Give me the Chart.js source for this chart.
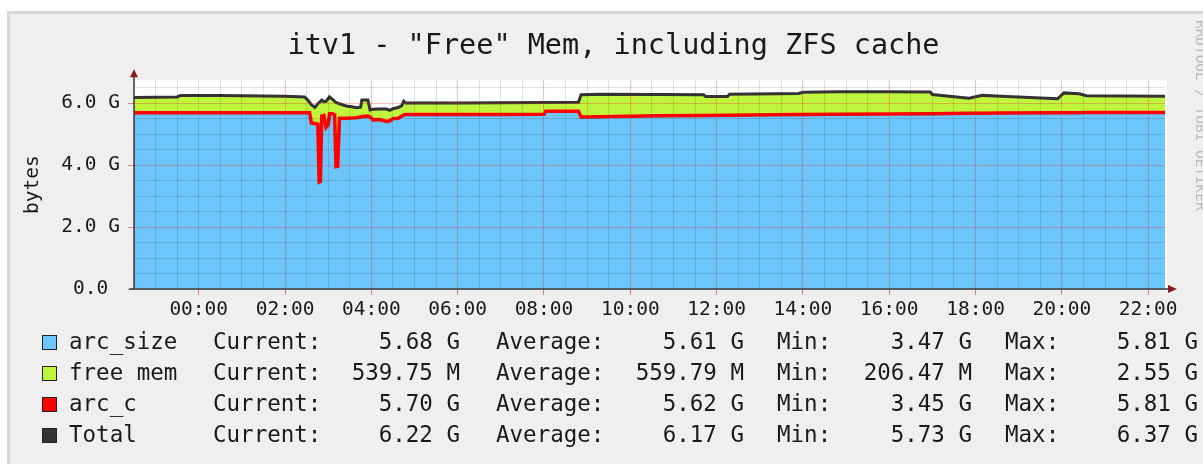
<!DOCTYPE html>
<html>
<head>
<meta charset="utf-8">
<script src="https://cdn.jsdelivr.net/npm/chart.js@4.4.0/dist/chart.umd.min.js"></script>
<style>
  html, body { margin:0; padding:0; background:#fff; }
  #wrap { position:relative; width:1203px; height:464px; overflow:hidden; }
  #panel { position:absolute; left:7px; top:11px; width:1220px; height:480px; background:#efefef; border:3px solid #d6d6d6; box-sizing:border-box; }
  #grafico { position:absolute; left:0; top:0; }
  .ley { position:absolute; font-family:'DejaVu Sans Mono', monospace; font-size:22.5px; line-height:22.5px; color:#1a1a1a; white-space:pre; }
  .caja { position:absolute; width:13px; height:13px; border:1px solid #222; }
  #marca { position:absolute; left:1193px; top:20px; writing-mode:vertical-rl; font-family:'DejaVu Sans Mono', monospace; font-size:14.4px; color:#bcbcbc; white-space:pre; }
</style>
</head>
<body>
<div id="wrap">
  <div id="panel"></div>
  <canvas id="grafico" width="1203" height="464"></canvas>
  <div id="marca">RRDTOOL / TOBI OETIKER</div>
</div>
<script>
// horas (negativas = dia anterior)
var horas    = [-1.5, -1.0, -0.5, -0.42, 0.0, 0.5, 1.0, 1.5, 2.0, 2.45, 2.53, 2.57, 2.61, 2.69, 2.76, 2.79, 2.82, 2.85, 2.90, 2.95, 3.00, 3.03, 3.10, 3.15, 3.18, 3.22, 3.26, 3.42, 3.55, 3.65, 3.75, 3.78, 3.92, 3.97, 4.04, 4.19, 4.35, 4.43, 4.50, 4.62, 4.70, 4.75, 4.80, 6.0, 7.0, 8.0, 8.04, 8.80, 8.86, 9.3, 10.7, 11.7, 11.75, 12.25, 12.3, 13.9, 14.0, 14.8, 16.0, 16.95, 17.0, 17.85, 18.15, 18.6, 19.9, 20.05, 20.4, 20.57, 22.39];
var total    = [6.18, 6.19, 6.20, 6.25, 6.25, 6.25, 6.24, 6.23, 6.22, 6.20, 6.10, 6.02, 5.95, 5.86, 5.98, 6.02, 6.05, 6.10, 6.05, 6.06, 6.15, 6.20, 6.12, 6.06, 6.02, 6.00, 5.98, 5.91, 5.88, 5.85, 5.87, 6.10, 6.10, 5.78, 5.80, 5.81, 5.81, 5.77, 5.82, 5.86, 5.91, 6.06, 6.00, 6.00, 6.01, 6.02, 6.02, 6.03, 6.27, 6.29, 6.28, 6.27, 6.21, 6.21, 6.29, 6.31, 6.35, 6.37, 6.37, 6.36, 6.28, 6.16, 6.25, 6.22, 6.14, 6.33, 6.30, 6.24, 6.22];
var arc_c    = [5.69, 5.69, 5.69, 5.69, 5.69, 5.69, 5.69, 5.69, 5.69, 5.69, 5.69, 5.69, 5.36, 5.34, 5.32, 3.45, 3.47, 5.58, 5.60, 5.22, 5.30, 5.66, 5.66, 5.62, 3.95, 3.96, 5.51, 5.51, 5.52, 5.53, 5.55, 5.57, 5.58, 5.55, 5.46, 5.47, 5.41, 5.43, 5.50, 5.51, 5.58, 5.62, 5.63, 5.63, 5.63, 5.64, 5.74, 5.74, 5.55, 5.56, 5.59, 5.60, 5.60, 5.61, 5.61, 5.63, 5.63, 5.64, 5.65, 5.66, 5.66, 5.67, 5.67, 5.68, 5.69, 5.69, 5.69, 5.70, 5.70];
var arc_size = [5.67, 5.67, 5.67, 5.67, 5.67, 5.67, 5.67, 5.67, 5.67, 5.67, 5.67, 5.67, 5.34, 5.32, 5.30, 3.47, 3.48, 5.56, 5.58, 5.20, 5.28, 5.64, 5.64, 5.60, 3.97, 3.98, 5.49, 5.49, 5.50, 5.51, 5.53, 5.55, 5.56, 5.53, 5.44, 5.45, 5.39, 5.41, 5.48, 5.49, 5.56, 5.60, 5.61, 5.61, 5.61, 5.62, 5.72, 5.72, 5.53, 5.54, 5.57, 5.58, 5.58, 5.59, 5.59, 5.61, 5.61, 5.62, 5.63, 5.64, 5.64, 5.65, 5.65, 5.66, 5.67, 5.67, 5.67, 5.68, 5.68];

// etiquetas de los ejes
var horasX      = [0, 2, 4, 6, 8, 10, 12, 14, 16, 18, 20, 22];
var etiquetasX  = ['00:00','02:00','04:00','06:00','08:00','10:00','12:00','14:00','16:00','18:00','20:00','22:00'];
var valoresY    = [0, 2, 4, 6];
var etiquetasY  = ['0.0 ', '2.0 G', '4.0 G', '6.0 G'];

// leyenda
var nombres   = ['arc_size', 'free mem', 'arc_c', 'Total'];
var actual    = ['5.68 G', '539.75 M', '5.70 G', '6.22 G'];
var promedio  = ['5.61 G', '559.79 M', '5.62 G', '6.17 G'];
var minimo    = ['3.47 G', '206.47 M', '3.45 G', '5.73 G'];
var maximo    = ['5.81 G', '2.55 G', '5.81 G', '6.37 G'];

var AZUL = '#6cc5fb', VERDE = '#c0f53e', ROJO = '#ff0000', GRIS = '#333333';
var coloresLeyenda = [AZUL, VERDE, ROJO, GRIS];
var MONO = "'DejaVu Sans Mono', monospace";

function serie(vals){
	return horas.map(function(h, i){ return {x: h, y: vals[i]}; });
}

function esMedio(v){ return Math.abs(v * 2 - Math.round(v * 2)) < 1e-6; }

var fondo = {
	id: 'fondo',
	beforeDraw: function(chart){
		var a = chart.chartArea, ctx = chart.ctx;
		ctx.save();
		ctx.fillStyle = '#ffffff';
		ctx.fillRect(a.left, a.top, a.right - a.left + 2, a.bottom - a.top);
		ctx.restore();
	}
};

var flechas = {
	id: 'flechas',
	afterDraw: function(chart){
		var a = chart.chartArea, ctx = chart.ctx;
		ctx.save();
		ctx.strokeStyle = '#3a3a3a';
		ctx.lineWidth = 1.5;
		ctx.beginPath();
		ctx.moveTo(a.left, a.bottom); ctx.lineTo(a.left, a.top - 4);
		ctx.moveTo(a.left - 5, a.bottom); ctx.lineTo(a.right + 4, a.bottom);
		ctx.stroke();
		ctx.fillStyle = '#8b1a1a';
		ctx.beginPath();
		ctx.moveTo(a.left, a.top - 11); ctx.lineTo(a.left - 4, a.top - 3); ctx.lineTo(a.left + 4, a.top - 3);
		ctx.closePath(); ctx.fill();
		ctx.beginPath();
		ctx.moveTo(a.right + 12, a.bottom); ctx.lineTo(a.right + 3, a.bottom - 4); ctx.lineTo(a.right + 3, a.bottom + 4);
		ctx.closePath(); ctx.fill();
		ctx.restore();
	}
};

function colorGrilla(c){
	var v = c.tick.value;
	if (!esMedio(v)) return 'rgba(0,0,0,0)';
	return (v % 2 === 0 && v !== 0) ? 'rgba(230,40,40,0.30)' : 'rgba(0,0,0,0.12)';
}
function colorMarca(c){
	var v = c.tick.value;
	return (esMedio(v) && v % 2 === 0) ? 'rgba(200,30,30,0.5)' : 'rgba(0,0,0,0)';
}

new Chart(document.getElementById('grafico'), {
	type: 'line',
	data: {
		datasets: [
			{ label: 'arc_size', data: serie(arc_size), borderColor: AZUL, borderWidth: 1, backgroundColor: AZUL, fill: 'origin', pointRadius: 0, order: 3 },
			{ label: 'Total', data: serie(total), borderColor: GRIS, borderWidth: 3, backgroundColor: VERDE, fill: 0, pointRadius: 0, order: 2 },
			{ label: 'arc_c', data: serie(arc_c), borderColor: ROJO, borderWidth: 3.5, fill: false, pointRadius: 0, order: 1 }
		]
	},
	options: {
		responsive: false,
		animation: false,
		layout: { padding: { left: 62, top: 0, right: 38, bottom: 0 } },
		plugins: {
			legend: { display: false },
			tooltip: { enabled: false },
			title: {
				display: true,
				text: 'itv1 - "Free" Mem, including ZFS cache',
				color: '#1a1a1a',
				font: { family: MONO, size: 28.5, weight: 'normal' },
				padding: { top: 29, bottom: 17 }
			}
		},
		scales: {
			x: {
				type: 'linear', min: -1.5, max: 22.39, bounds: 'data',
				border: { display: false },
				grid: { z: 1, lineWidth: 1, tickLength: 6, color: colorGrilla, tickColor: colorMarca },
				ticks: {
					stepSize: 0.5, autoSkip: false, maxRotation: 0, minRotation: 0, includeBounds: false, padding: 3,
					color: '#1a1a1a', font: { family: MONO, size: 19.5 },
					callback: function(v){ var i = horasX.indexOf(v); return i >= 0 ? etiquetasX[i] : ''; }
				},
				afterFit: function(s){ s.height = 464 - 289; }
			},
			y: {
				min: 0, max: 6.74, bounds: 'data',
				border: { display: false },
				grid: { z: 1, lineWidth: 1, tickLength: 6, color: colorGrilla, tickColor: colorMarca },
				ticks: {
					stepSize: 0.5, autoSkip: false, includeBounds: false, padding: 8,
					color: '#1a1a1a', font: { family: MONO, size: 19.5 },
					callback: function(v){ var i = valoresY.indexOf(v); return i >= 0 ? etiquetasY[i] : ''; }
				},
				title: {
					display: true, text: 'bytes', color: '#1a1a1a',
					font: { family: MONO, size: 19.5 },
					padding: { top: -40.5, bottom: 0 }
				},
				afterFit: function(s){ s.width = 134 - 62; }
			}
		}
	},
	plugins: [fondo, flechas]
});

// leyenda como texto
var wrap = document.getElementById('wrap');
function texto(t, x, y, derecha){
	var d = document.createElement('div');
	d.className = 'ley';
	d.textContent = t;
	d.style.top = y + 'px';
	if (derecha) d.style.right = (1203 - x) + 'px';
	else d.style.left = x + 'px';
	wrap.appendChild(d);
}
for (var i = 0; i < nombres.length; i++) {
	var fila = 330 + i * 31;
	var c = document.createElement('div');
	c.className = 'caja';
	c.style.left = '42px';
	c.style.top = (fila + 5) + 'px';
	c.style.background = coloresLeyenda[i];
	wrap.appendChild(c);
	texto(nombres[i], 69, fila, false);
	texto('Current:', 213, fila, false);
	texto(actual[i], 460, fila, true);
	texto('Average:', 496, fila, false);
	texto(promedio[i], 744, fila, true);
	texto('Min:', 777, fila, false);
	texto(minimo[i], 972, fila, true);
	texto('Max:', 1005, fila, false);
	texto(maximo[i], 1198, fila, true);
}
</script>
</body>
</html>
